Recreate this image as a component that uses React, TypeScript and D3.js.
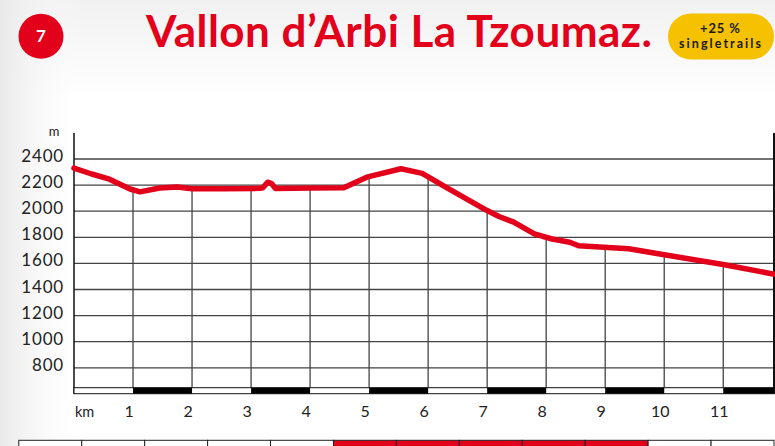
import React from "react";
import * as d3 from "d3";

// elevation profile
const profileKm = [0, 0.3, 0.6, 0.95, 1.12, 1.45, 1.75, 2.0, 2.5, 3.15, 3.2, 3.28, 3.35, 3.41, 4.0, 4.57, 4.96, 5.54, 5.9, 6.32, 7.0, 7.2, 7.45, 7.8, 8.1, 8.4, 8.55, 9.4, 10.0, 11.0, 11.86];
const profileElev = [2330, 2285, 2245, 2170, 2148, 2178, 2185, 2172, 2172, 2175, 2180, 2222, 2212, 2174, 2178, 2180, 2261, 2325, 2290, 2179, 2005, 1959, 1916, 1827, 1787, 1762, 1735, 1712, 1666, 1592, 1517];

const yTicks = [2400, 2200, 2000, 1800, 1600, 1400, 1200, 1000, 800];
const kmTicks = [1, 2, 3, 4, 5, 6, 7, 8, 9, 10, 11];
const kmMax = 11.86;

const title = "Vallon d’Arbi La Tzoumaz.";
const routeNo = "7";
const badge = ["+25 %", "singletrails"];
// rating boxes along the bottom (true = filled red)
const rating = [false, false, false, false, false, true, true, true, true, true, false, false];

const RED = "#e2001a";
const W = 775, H = 446;

export default function App() {
  const x = d3.scaleLinear().domain([0, kmMax]).range([74, 774]);
  const y = d3.scaleLinear().domain([800, 2400]).range([367.8, 159]);
  const top = 133, barTop = 387.7, barH = 6;

  const pts = profileKm.map((k, i) => [k, profileElev[i]] as [number, number]);
  const line = d3.line<[number, number]>().x(d => x(d[0])).y(d => y(d[1]));
  const elevAt = d3.scaleLinear().domain(profileKm).range(profileElev);

  const segs = d3.range(0, Math.ceil(kmMax));
  const cellX = d3.scaleLinear().domain([0, rating.length]).range([18.8, 774]);

  return (
    <div style={{ position: "fixed", left: 0, top: 0 }}>
      <svg width={W} height={H} style={{ display: "block" }}>
        <defs>
          <linearGradient id="lg" x1="0" x2="1" y1="0" y2="0">
            <stop offset="0" stopColor="#e9e9e9" />
            <stop offset="0.11" stopColor="#ffffff" stopOpacity="0" />
          </linearGradient>
          <linearGradient id="tg" x1="0" x2="0" y1="0" y2="1">
            <stop offset="0" stopColor="#f1f1f1" />
            <stop offset="0.22" stopColor="#ffffff" />
          </linearGradient>
        </defs>
        <rect width={W} height={H} fill="url(#tg)" />
        <rect width={W} height={H} fill="url(#lg)" />

        {/* header */}
        <circle cx={41} cy={36.3} r={22.5} fill={RED} />
        <text x={41} y={42} textAnchor="middle" fill="#fff" fontFamily="Lato, sans-serif" fontWeight={700} fontSize={17}>{routeNo}</text>
        <text x={146} y={47} fill={RED} fontFamily="Lato, sans-serif" fontWeight={700} fontSize={44} textLength={506}>{title}</text>
        <rect x={668} y={13.5} width={106} height={46} rx={23} fill="#f6c100" />
        <text x={720} y={33} textAnchor="middle" fill="#1a1a1a" fontFamily="Lato, sans-serif" fontWeight={700} fontSize={13} textLength={40}>{badge[0]}</text>
        <text x={720} y={47.5} textAnchor="middle" fill="#1a1a1a" fontFamily="Lato, sans-serif" fontWeight={700} fontSize={12.5} textLength={82}>{badge[1]}</text>

        {/* plot background */}
        <rect x={x(0)} y={top} width={x(kmMax) - x(0)} height={barTop - top} fill="#fff" />

        {/* horizontal grid */}
        {yTicks.map(t => (
          <g key={t}>
            <line x1={x(0)} x2={x(kmMax)} y1={y(t)} y2={y(t)} stroke="#444" strokeWidth={1.3} />
            <text x={64} y={y(t) + 3} textAnchor="end" fill="#222" fontFamily="Lato, sans-serif" fontSize={17} letterSpacing={0.8}>{t}</text>
          </g>
        ))}
        <text x={54} y={136} textAnchor="middle" fill="#222" fontFamily="Lato, sans-serif" fontSize={13}>m</text>

        {/* vertical grid below the profile */}
        {kmTicks.map(k => (
          <line key={k} x1={x(k)} x2={x(k)} y1={y(elevAt(k))} y2={barTop} stroke="#444" strokeWidth={1.3} />
        ))}

        {/* axes */}
        <line x1={x(0)} x2={x(0)} y1={top} y2={barTop + barH} stroke="#111" strokeWidth={1.5} />
        <line x1={x(kmMax)} x2={x(kmMax)} y1={top} y2={barTop + barH} stroke="#111" strokeWidth={2} />

        {/* km bar */}
        <rect x={x(0)} y={barTop} width={x(kmMax) - x(0)} height={barH} fill="#fff" stroke="#111" strokeWidth={1} />
        {segs.filter(s => s % 2 === 1).map(s => (
          <rect key={s} x={x(s)} y={barTop} width={x(Math.min(s + 1, kmMax)) - x(s)} height={barH} fill="#000" />
        ))}
        <text x={75} y={417} fill="#222" fontFamily="Lato, sans-serif" fontSize={14.5}>km</text>
        {kmTicks.map(k => (
          <text key={k} x={x(k) - 4} y={417} textAnchor="middle" fill="#222" fontFamily="Lato, sans-serif" fontSize={16}>{k}</text>
        ))}

        {/* profile */}
        <path d={line(pts) || ""} fill="none" stroke={RED} strokeWidth={5.5} strokeLinejoin="round" strokeLinecap="round" />

        {/* rating boxes */}
        {rating.map((r, i) => (
          <rect key={i} x={cellX(i)} y={440.3} width={cellX(i + 1) - cellX(i)} height={12} fill={r ? RED : "#fff"} stroke="#222" strokeWidth={1} />
        ))}
      </svg>
    </div>
  );
}
